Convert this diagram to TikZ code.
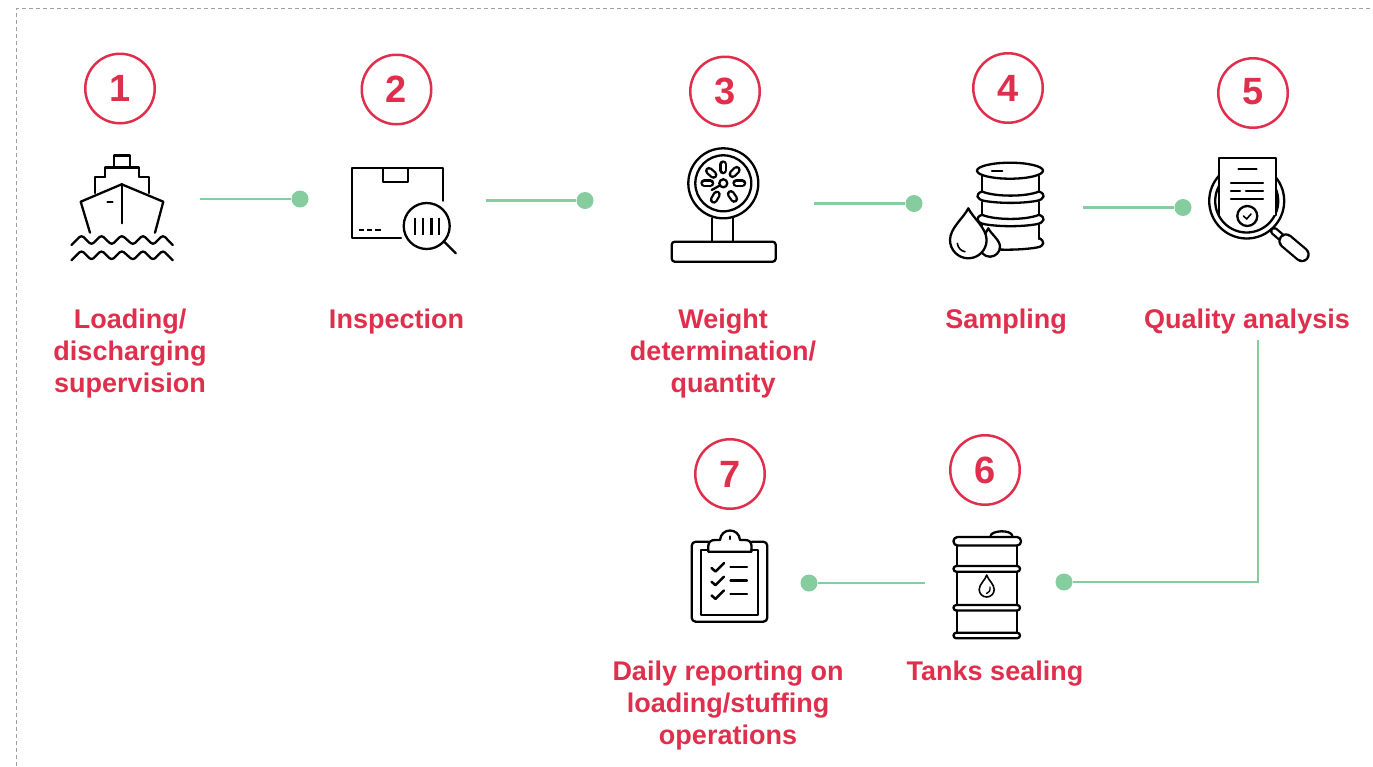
\documentclass[tikz,border=0pt]{standalone}
\usepackage{fontspec}
\setmainfont{Liberation Sans}
\definecolor{brandred}{HTML}{DF2F4D}
\definecolor{linkgreen}{HTML}{85CD9E}
\definecolor{framegray}{HTML}{A0A0A0}
\newcommand{\capsline}[3]{%
  \draw[line width=#3pt,line cap=round,black] #1 -- #2;
  \draw[line width=#3pt-4.6pt,line cap=round,white] #1 -- #2;}
\begin{document}
\begin{tikzpicture}[x=1pt,y=-1pt,
  numc/.style={circle,draw=brandred,line width=2.5pt,minimum size=69.5pt,inner sep=0pt,text=brandred,font=\fontsize{38}{38}\selectfont\bfseries},
  lbl/.style={anchor=north,inner sep=0pt,align=center,text=brandred,font=\fontsize{27}{32}\selectfont\bfseries},
  link/.style={draw=linkgreen,line width=2.6pt},
  dotn/.style={circle,fill=linkgreen,minimum size=17pt,inner sep=0pt},
  ic/.style={draw=black,line width=2.3pt,line join=round,line cap=round},
  icf/.style={ic,fill=white}]
\useasboundingbox (0,0) rectangle (1373,766);
\fill[white] (0,0) rectangle (1373,766);
\draw[framegray,line width=1.2pt,dash pattern=on 4pt off 3pt] (16.5,766) -- (16.5,8.5) -- (1373,8.5);

% numbers
\node[numc] (n1) at (120,88.5) {\raisebox{-1.5pt}{1}};
\node[numc] (n2) at (396.5,89.5) {\raisebox{-0.5pt}{2}};
\node[numc] (n3) at (725,91.5) {\raisebox{1.5pt}{3}};
\node[numc] (n4) at (1008,88) {\raisebox{-2pt}{4}};
\node[numc] (n5) at (1253,93) {\raisebox{3pt}{5}};
\node[numc] (n6) at (985,470) {\raisebox{-3pt}{6}};
\node[numc] (n7) at (730,474) {\raisebox{0pt}{7}};

% labels
\node[lbl] (t1) at (130,309) {Loading/\\discharging\\supervision};
\node[lbl] (t2) at (396.5,309) {Inspection};
\node[lbl] (t3) at (723,309) {Weight\\determination/\\quantity};
\node[lbl] (t4) at (1006,309) {Sampling};
\node[lbl] (t5) at (1247,309) {Quality analysis};
\node[lbl] (t6) at (995,661) {Tanks sealing};
\node[lbl] (t7) at (728,661) {Daily reporting on\\loading/stuffing\\operations};

% connectors
\coordinate (s1) at (200,199);   \node[dotn] (d1) at (300,199) {};
\coordinate (s2) at (486,200.5); \node[dotn] (d2) at (585,200.5) {};
\coordinate (s3) at (814,203.5); \node[dotn] (d3) at (914,203.5) {};
\coordinate (s4) at (1083,207.5);\node[dotn] (d4) at (1183,207.5) {};
\coordinate (s5) at (1258,340);  \node[dotn] (d5) at (1064,582) {};
\coordinate (s6) at (925,583);   \node[dotn] (d6) at (809,583) {};
\draw[link] (s1) -- (d1);
\draw[link] (s2) -- (d2);
\draw[link] (s3) -- (d3);
\draw[link] (s4) -- (d4);
\draw[link] (s5) |- (d5);
\draw[link] (s6) -- (d6);

% ship
\draw[ic] (114,166.5) -- (114,155.5) -- (130,155.5) -- (130,166.5);
\draw[ic] (105,176.7) -- (105,167.5) -- (139.3,167.5) -- (139.3,176.7);
\draw[ic] (95,193) -- (95,177.3) -- (105,177.3);
\draw[ic] (139.3,177.3) -- (149.3,177.3) -- (149.3,193);
\draw[ic] (90,232.7) -- (80.7,201.7) -- (121.7,184.3) -- (163.3,201.7) -- (155,232.7);
\draw[ic] (121.7,184.3) -- (121.7,223.3);
\draw[ic] (107.5,202) -- (112.5,202);
\foreach \yy in {0,15.3}{
  \draw[ic,rounded corners=3pt,yshift=-\yy pt]
    (71.5,245) -- (81.5,235) -- (91.5,245) -- (101.5,235) -- (111.7,245) -- (121.7,235) -- (133,245) -- (143,235) -- (153,245) -- (163,235) -- (172.7,245);
}

% box with magnifier
\draw[ic] (442.7,200.7) -- (442.7,168.3) -- (351.7,168.3) -- (351.7,238.3) -- (401,238.3);
\draw[ic] (383.3,168.3) -- (383.3,181.7) -- (408.3,181.7) -- (408.3,168.3);
\draw[ic,line cap=butt] (358.5,230) -- (363.5,230) (366.5,230) -- (371.5,230) (375,230) -- (381,230);
\draw[ic] (426.7,226) circle (23);
\draw[ic] (444.3,241.7) -- (455.7,253.3);
\foreach \xx in {415,423,431.5,439}{\draw[ic,line width=2.6pt,line cap=butt] (\xx,217.5) -- (\xx,234.5);}

% gauge
\draw[ic] (723.3,183.3) circle (35);
\draw[ic] (723.3,183.3) circle (28);
\foreach \a in {90,45,0,-55,-120,180,139}{
  \capsline{({723.3+13*cos(\a)},{183.3-13*sin(\a)})}{({723.3+19*cos(\a)},{183.3-19*sin(\a)})}{8}
}
\draw[ic,fill=white] (723.3,183.3) circle (4);
\draw[ic] (719.8,185.5) -- (711.7,190);
\draw[ic] (712.3,218.3) -- (712.3,241.7) (733.3,218.3) -- (733.3,241.7);
\draw[ic,rounded corners=3pt] (671.7,241.7) rectangle (775.7,261.7);

% drum with drops
\draw[ic] (981.7,176) -- (981.7,192) (1039.3,176) -- (1039.3,192);
\draw[ic] (981.7,202) -- (981.7,215) (1039.3,202) -- (1039.3,215);
\draw[ic] (981.7,225) -- (981.7,239) (1039.3,225) -- (1039.3,239);
\draw[icf] (1010,170.7) ellipse (33 and 8);
\draw[ic,line width=1.6pt] (991.7,170.7) -- (1002.5,170.7);
\foreach \yy in {0,23.3}{
  \draw[ic,yshift=-\yy pt] (982,191.5) .. controls (975,194) and (976,199.5) .. (985,201) .. controls (1000,203.5) and (1021,203.5) .. (1036,201) .. controls (1045,199.5) and (1046,194) .. (1039,191.5);
  \draw[ic,yshift=-\yy pt] (982,191.5) .. controls (995,197) and (1026,197) .. (1039,191.5);
}
\draw[ic] (1039,238) .. controls (1045,241) and (1045,246) .. (1037,247.5) .. controls (1025,249.5) and (1010,250) .. (998,249.5);
\draw[icf] (988.3,228.3) .. controls (991,234) and (1000,240) .. (1000,246.7) arc[start angle=0,end angle=180,radius=10] .. controls (980,240) and (985.5,234) .. (988.3,228.3) -- cycle;
\draw[icf] (968.3,208.3) .. controls (973,218) and (986.6,228) .. (986.6,240) arc[start angle=0,end angle=180,radius=18.3] .. controls (950,228) and (963.6,218) .. (968.3,208.3) -- cycle;
\draw[ic,line width=1.6pt] (957.3,243.3) .. controls (958,248) and (961,251) .. (965,251.7);

% quality analysis
\capsline{(1274,231)}{(1281,237)}{8.5}
\capsline{(1286,241)}{(1302,254.5)}{15.5}
\draw[ic] (1246.7,201) circle (37.5);
\draw[ic] (1246.7,201) circle (31.5);
\fill[white] (1219,157.7) rectangle (1276,215);
\draw[ic] (1219,215) -- (1219,157.7) -- (1276,157.7) -- (1276,215);
\draw[ic] (1238.5,169) -- (1256.5,169);
\draw[ic] (1231,182.7) -- (1263,182.7);
\draw[ic] (1231,190.7) -- (1240,190.7) (1246,190.7) -- (1263,190.7);
\draw[ic] (1231,199) -- (1263,199);
\draw[icf] (1247.3,216) circle (10);
\draw[ic,line width=1.6pt] (1243.5,216) -- (1246.7,219) -- (1251,214);

% clipboard
\draw[ic,rounded corners=4pt] (708.3,541.7) -- (691.7,541.7) -- (691.7,621.7) -- (767.3,621.7) -- (767.3,541.7) -- (751.7,541.7);
\draw[ic] (708.3,550) -- (700.7,550) -- (700.7,615) -- (758.3,615) -- (758.3,550) -- (751,550);
\draw[ic] (708.3,551.7) -- (708.3,546) .. controls (708.3,542) and (711,540) .. (715,540) -- (720,540) .. controls (720.5,534) and (725,530.5) .. (730,530.5) .. controls (735,530.5) and (739.5,534) .. (740,540) -- (745,540) .. controls (749,540) and (751.5,542) .. (751.5,546) -- (751.5,551.7) -- cycle;
\draw[ic] (730,536.5) -- (730,539);
\foreach \yy in {0,13.7,27.4}{
  \draw[ic,line width=2.5pt,yshift=-\yy pt] (711.5,568) -- (715.5,571.5) -- (724,563);
  \draw[ic,yshift=-\yy pt] (730.5,566.7) -- (747,566.7);
}

% oil barrel
\draw[ic] (990.5,536) .. controls (991,530.5) and (1011,529) .. (1012.5,536);
\draw[ic,rounded corners=4pt] (953.5,537) rectangle (1021,545.5);
\draw[ic] (956.7,545.5) -- (956.7,566) (1016.7,545.5) -- (1016.7,566);
\draw[ic] (956.7,572) -- (956.7,605) (1016.7,572) -- (1016.7,605);
\draw[ic] (956.7,610.5) -- (956.7,632.5) (1016.7,610.5) -- (1016.7,632.5);
\draw[ic,rounded corners=2.8pt] (953.5,566) rectangle (1020,571.7);
\draw[ic,rounded corners=2.8pt] (953.5,605) rectangle (1020,610.5);
\draw[ic,rounded corners=2.8pt] (953.5,632.7) rectangle (1020,638.3);
\draw[ic,line width=1.6pt] (986.7,575) .. controls (988,580) and (994.2,584) .. (994.2,589.5) arc[start angle=0,end angle=180,radius=7.5] .. controls (979.2,584) and (985.4,580) .. (986.7,575) -- cycle;
\draw[ic,line width=1.4pt] (990,587) .. controls (990.5,590.5) and (989,593) .. (986.5,593.5);
\end{tikzpicture}
\end{document}
